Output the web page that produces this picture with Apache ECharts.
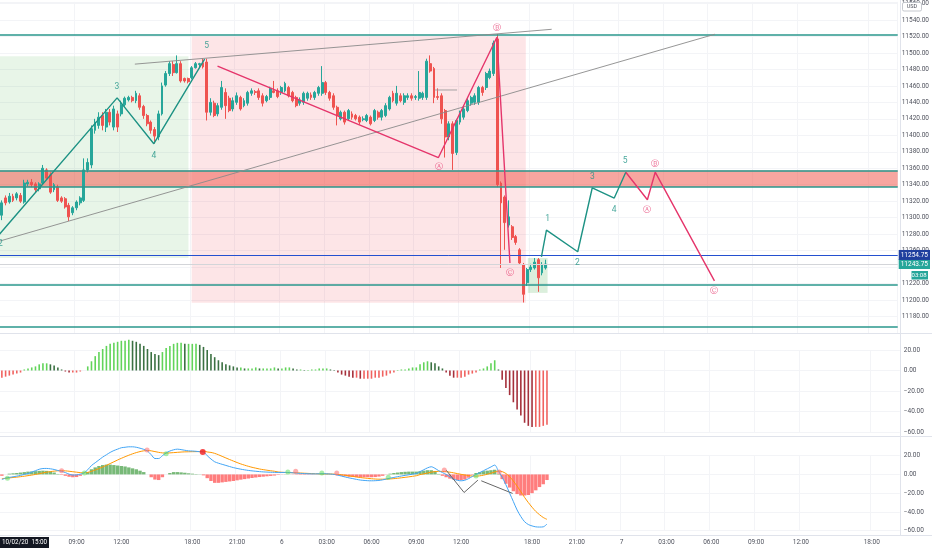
<!DOCTYPE html>
<html><head><meta charset="utf-8">
<script src="https://cdn.jsdelivr.net/npm/echarts@6/dist/echarts.min.js"></script>
<style>html,body{margin:0;padding:0;background:#fff}#c{width:932px;height:550px}</style>
</head><body><div id="c"></div><script>
// ---------- time slots (15-minute bars, CME session) ----------
const N_SLOTS = 241;
const startDay = 5, startMinute = 240;
const skipTimes = ['15:15','16:00','16:15','16:30','16:45'];
const tickKeys = ['5 09:00','5 12:00','5 18:00','5 21:00','6 00:00','6 03:00','6 06:00','6 09:00','6 12:00',
  '6 18:00','6 21:00','7 00:00','7 03:00','7 06:00','7 09:00','7 12:00','7 18:00'];

// ---------- price candles [open, close, low, high] ----------
const candles = [
[11303,11318,11297,11321],[11324,11318,11315,11327],[11319,11326,11317,11330],[11326,11321,11319,11329],
[11324,11329,11321,11331],[11327,11320,11318,11330],[11319,11342,11317,11346],[11341,11343,11338,11346],
[11343,11340,11337,11347],[11341,11334,11331,11343],[11335,11341,11332,11343],[11342,11360,11340,11364],
[11358,11348,11346,11360],[11352,11331,11329,11355],[11334,11340,11331,11342],[11337,11321,11319,11340],
[11324,11320,11318,11326],[11323,11313,11311,11325],[11315,11301,11296,11318],[11306,11312,11303,11314],
[11312,11319,11309,11321],[11318,11324,11315,11326],[11321,11358,11319,11372],[11358,11367,11355,11372],
[11364,11408,11360,11412],[11406,11416,11402,11420],[11412,11422,11408,11428],[11424,11412,11406,11428],
[11410,11428,11404,11432],[11428,11416,11412,11432],[11410,11432,11406,11436],[11426,11410,11404,11430],
[11426,11437,11423,11442],[11437,11445,11435,11447],[11443,11446,11441,11448],[11446,11442,11440,11448],
[11442,11451,11439,11454],[11448,11434,11431,11451],[11435,11424,11420,11437],[11424,11414,11411,11426],
[11416,11406,11402,11418],[11407,11399,11390,11410],[11398,11426,11394,11430],[11426,11460,11424,11464],
[11461,11475,11459,11478],[11475,11487,11472,11490],[11486,11476,11472,11490],[11476,11487,11475,11497],
[11487,11466,11464,11490],[11469,11466,11464,11470],[11469,11465,11463,11470],[11470,11482,11468,11484],
[11482,11487,11481,11489],[11486,11487,11483,11488],[11488,11483,11481,11493],[11489,11428,11418,11493],
[11428,11440,11424,11445],[11439,11424,11422,11442],[11426,11436,11423,11439],[11434,11458,11431,11466],
[11452,11436,11420,11457],[11445,11430,11428,11448],[11432,11442,11429,11446],[11440,11448,11437,11452],
[11446,11432,11430,11448],[11436,11442,11434,11445],[11439,11452,11436,11454],[11451,11454,11448,11457],
[11453,11452,11449,11455],[11454,11446,11443,11457],[11448,11439,11435,11451],[11442,11447,11440,11449],
[11446,11457,11443,11459],[11454,11452,11451,11466],[11454,11447,11445,11457],[11452,11458,11449,11460],
[11454,11463,11452,11465],[11458,11448,11446,11460],[11452,11442,11440,11454],[11446,11436,11434,11448],
[11439,11443,11436,11446],[11440,11451,11437,11453],[11445,11451,11442,11453],[11449,11446,11443,11452],
[11446,11452,11443,11454],[11451,11458,11448,11460],[11451,11464,11448,11484],[11464,11452,11449,11466],
[11452,11445,11442,11454],[11448,11434,11431,11451],[11434,11424,11412,11436],[11420,11428,11418,11430],
[11428,11416,11413,11430],[11420,11430,11418,11432],[11426,11422,11419,11429],[11424,11420,11418,11426],
[11422,11416,11413,11424],[11419,11420,11417,11423],[11418,11424,11416,11426],[11422,11414,11412,11424],
[11418,11430,11416,11432],[11428,11422,11419,11430],[11422,11430,11418,11432],[11424,11436,11422,11439],
[11432,11446,11430,11448],[11451,11442,11440,11454],[11439,11451,11436,11460],[11448,11442,11440,11451],
[11440,11448,11437,11451],[11446,11448,11443,11451],[11448,11445,11442,11451],[11446,11447,11443,11449],
[11445,11452,11442,11478],[11446,11451,11443,11453],[11446,11490,11443,11493],[11487,11478,11476,11497],
[11481,11446,11439,11483],[11447,11446,11443,11457],[11448,11420,11414,11451],[11430,11398,11373,11432],
[11398,11414,11394,11417],[11414,11378,11358,11417],[11379,11418,11376,11420],[11416,11428,11413,11430],
[11422,11432,11419,11436],[11430,11442,11428,11445],[11439,11446,11436,11448],[11440,11448,11437,11451],
[11440,11458,11437,11460],[11458,11452,11448,11460],[11458,11475,11455,11477],[11470,11478,11468,11481],
[11475,11512,11472,11515],[11517,11340,11337,11523],[11342,11318,11239,11344],[11325,11294,11261,11327],
[11291,11301,11288,11321],[11289,11276,11273,11291],[11277,11270,11267,11279],[11261,11245,11243,11263],
[11243,11207,11197,11245],[11221,11237,11217,11239],[11237,11240,11234,11244],[11239,11246,11237,11251],
[11249,11227,11210,11251],[11233,11243,11230,11246],[11239,11243.75,11237,11249]
];

// ---------- oscillator panel 1 ----------
const osc = [-7,-6,-5,-4,-3,-2,1,2,3,4,6,7,7,6,5,3,1,-1,-2,-2,-2,-1,0,4,9,14,18,21,24,26,27,28,29,29,30,29,
 28,26,24,21,18,16,15,18,22,24,26,27,27,26,26,26,26,25,23,20,16,13,10,8,6,5,4,3,3,2,2,2,3,2,2,2,2,3,
 2,2,3,3,2,1,1,0.5,0.5,1,1,2,2,2,1,0.5,-2,-4,-5,-6,-7,-7,-8,-8,-8,-8,-7,-7,-6,-5,-3,-2,0.5,1,1,2,3,3,
 6,8,9,8,7,4,2,-2,-5,-7,-7,-7,-6,-4,-3,-2,1,2,4,7,10,1,-9,-17,-24,-31,-38,-44,-51,-54,-55,-55,-55,-54,-53];

// ---------- MACD panel 2 ----------
const macd = [-5.5,-4,-3.2,-2.5,-1.8,-1,0,1,2.5,4,5.5,6.3,6.4,6,5.3,4.2,3.3,2,0.3,-0.7,-0.5,0.3,1.5,5,9.5,12.5,15.5,
 18.5,21,23.5,25.5,27,28.5,29,29.5,29.5,29,28,26.8,25,21,17,17,20,23,25,26.3,27,26.5,25.8,25.2,25,24.7,24.3,
 24,20,16.5,13.5,12,10.8,9.6,8.4,7.3,6.4,5.6,4.9,4.3,3.8,3.4,3,2.7,2.5,2.3,2.2,
 2.1,2.1,2.2,2.0,1.7,1.4,1.1,0.9,0.7,0.6,0.6,0.7,0.8,0.7,0.4,0,-0.8,-1.8,-2.8,-3.7,-4.5,-5.3,-6,-6.4,-6.7,-6.8,
 -6.7,-6.4,-5.8,-4.9,-4,-3.2,-2.4,-1.7,-1,-0.4,0.3,1,
 3,5,7,8.2,6.5,4,2,0,-2.5,-5,-6.3,-6.8,-6.2,-4.5,-2.2,0,2,4,6,8,10,3.5,-3,-11,-20,-29,-38,-45,-50.5,-53.5,-55,-56,-56.2,-56,-53];
const signal = [-4.5,-4.1,-3.7,-3.3,-2.9,-2.4,-1.9,-1.3,-0.7,0,0.8,1.6,2.4,3,3.5,3.9,4,3.8,3.4,2.9,2.4,1.9,1.6,2.2,3.3,
 4.7,6.2,7.9,9.7,11.6,13.5,15.4,17.2,18.9,20.5,22,23.3,24.4,25.2,25.6,25.2,24.4,23.6,23,22.8,23,23.3,23.6,23.9,24.1,24.2,24.3,24.35,24.4,
 25,24,23.5,22.5,21,19.3,17.6,15.9,14.3,12.7,11.2,9.9,8.7,7.6,6.7,5.8,5.1,4.5,3.9,3.4,
 2.6,2.3,2.0,1.9,1.8,1.7,1.5,1.3,1.1,0.9,0.7,0.6,0.6,0.6,0.5,0.3,0,-0.4,-0.9,-1.5,-2.1,-2.7,-3.3,-3.8,-4.2,-4.6,
 -4.9,-5.1,-5.1,-5,-4.8,-4.5,-4.1,-3.6,-3.1,-2.6,-2,-1.4,
 -0.2,0.6,1.5,2.4,3,3.3,3.2,2.9,2.4,1.7,0.9,0.1,-0.6,-1.2,-1.7,-1.8,-1.5,-0.8,0.2,1.3,2.6,3.5,3,1,-2.5,-7,-12.5,-18.5,-24.5,-30,-35,-39.5,-43,-46,-48];
const hist = [-1.5,0,0.8,1.2,1.5,2,2.5,3,3.2,3.5,3.8,4,3.8,3.2,2,0.5,-0.5,-1.5,-2.5,-3,-2.8,-1.5,0,2.5,5.5,7.5,9,10,10.5,
 10.5,10,9.5,9,8.5,7.5,6.5,5.5,4,2.5,0,-3,-5.5,-6,-3,0,1.5,2.5,2.5,2.2,1.8,1.2,0.8,0.4,0.2,
 -1,-4,-7,-9,-9,-8.5,-8,-7.5,-7,-6.3,-5.6,-5,-4.4,-3.8,-3.3,-2.8,-2.4,-2,-1.6,-1.2,
 -0.5,-0.2,0.2,0.1,-0.2,-0.4,-0.5,-0.5,-0.4,-0.3,-0.1,0.2,0.4,0.4,0.2,-0.2,-0.8,-1.5,-2,-2.5,-2.8,-3,-3,-3,-3,-3,
 -2.8,-2.3,-1.5,-0.2,0.8,1.5,2,2.5,2.8,3,3,3,
 3.5,4,4.5,4.5,3.5,0.5,-1.5,-3,-4.5,-5.5,-6,-6,-5.5,-3.5,-0.5,1.5,2.5,3.5,4,4.5,5,0.5,-5,-10,-14,-18,-21,-22.5,-22.5,-22,-20,-17,-13.5,-10.5,-6];
// crossover dots (slot position, value, kind)
const crossX = [1.5,16,22.1,38.9,44,53.8,76.6,78.7,85.7,89.7,103.5,118.5,127,133.2];
const crossY = [-4,4,1.4,26,22,24,2.5,3.5,1.4,1.4,-3,4.6,-1.8,2.5];
const crossKind = ['up','dn','up','dn','up','big','up','dn','up','dn','up','dn','up','dn'];
const macdZig1 = [[119,4.6],[123.8,-19.3],[127.5,-6.1]];
const macdZig2 = [[128.4,-6.8],[136.8,-20.3]];

// ---------- drawings on price pane (slot position, price) ----------
const tealLevels = [11522.5, 11357.2, 11337.1, 11218, 11167];
const supplyBand = [11357.2, 11337.1];
const blueLevel = 11254.75;
const lastPrice = 11243.75;
const greenBox = [[-0.5,11496],[50.1,11251]];
const pinkBox = [[50.96,11520],[140.66,11196.6]];
const smallBox = [[141.2,11251],[146.5,11208.7]];
const lowerTrend = [[-0.5,11271.7],[191.4,11522.7]];
const upperTrend = [[35.7,11486.4],[147.6,11528.7]];
const shortMark = [[116.3,11455],[122.2,11455]];
const impulseWave = [[-0.8,11279],[30.94,11445.4],[40.8,11389.8],[54.43,11492.5]];
const abcWave = [[57.9,11484],[117.2,11373],[132.9,11519],[136.4,11245]];
const futureImpulse = [[144.85,11252.5],[146.2,11284.8],[154.6,11258.6],[158.5,11336.3],[164.4,11323.8],[167.5,11355.2]];
const futureAbc = [[167.5,11355.2],[173.3,11321.8],[175.4,11355.2],[191.3,11223.2]];
const numberLabels = [['2',-0.4,11268],['3',30.9,11459],['4',40.8,11375],['5',54.96,11508],
  ['1',146.5,11299],['2',154.5,11245],['3',158.5,11349],['4',164.4,11310],['5',167.3,11369]];
const letterLabels = [['Ⓐ',117.4,11361],['Ⓑ',132.9,11530],['Ⓒ',136.4,11233],
  ['Ⓐ',173.2,11309],['Ⓑ',175.4,11364.5],['Ⓒ',191.1,11211]];
const countdown = '03:08';
const cursorLabel = '10/02/20  15:00';

// ---------- build ----------
function buildSlots(){
  const out=[]; let d=startDay, m=startMinute;
  while(out.length<N_SLOTS){
    const t=String(Math.floor(m/60)).padStart(2,'0')+':'+String(m%60).padStart(2,'0');
    if(!skipTimes.includes(t)) out.push(d+' '+t);
    m+=15; if(m>=1440){m-=1440;d++;}
  }
  return out;
}
const slots = buildSlots();
const tickSet = new Set(tickKeys);
const C = {up:'#26a69a',down:'#ef5350',teal:'#2a978c',wTeal:'#1d9284',wPink:'#e5356b',trend:'#8a8a8a',
  blue:'#2450d0',badge:'#1f3f9e',last:'#d3d5d9',txt:'#50535e',sep:'#e0e3eb',grid:'#f3f4f7'};
const FONT='Roboto';
const GL=-2.8, GW=902.6;
const fmt2 = v => (v<0?'−':'')+Math.abs(v).toFixed(2);

const chart = echarts.init(document.getElementById('c'), null, {renderer:'canvas'});
const catAxis = (g, showLabel) => ({type:'category', gridIndex:g, data:slots, boundaryGap:true,
  axisLine:{show:false}, axisTick:{show:false},
  axisLabel:{show:showLabel, interval:(i,v)=>tickSet.has(v), formatter:v=>{const t=v.split(' ');return t[1]==='00:00'?t[0]:t[1];},
    color:C.txt, fontSize:6.5, fontFamily:FONT, margin:8},
  splitLine:{show:true, interval:(i,v)=>tickSet.has(v), lineStyle:{color:C.grid,width:1}}});
const valX = g => ({type:'value', gridIndex:g, min:-0.5, max:N_SLOTS-0.5, show:false});
const panelY = (g) => ({type:'value', gridIndex:g, position:'right', min:-60, max:20, interval:20,
  axisLine:{show:false}, axisTick:{show:false},
  axisLabel:{formatter:fmt2, color:C.txt, fontSize:6.5, fontFamily:FONT, margin:4},
  splitLine:{lineStyle:{color:C.grid}}});

const oscColor = p => { const i=p.dataIndex, v=osc[i], pv=i?osc[i-1]:v;
  if(v>=0) return v>=pv?'#62d45a':'#3b7142'; return v<pv?'#a5303b':'#f0625f'; };
const lineS = (data, color, width, z, xi) => ({type:'line', xAxisIndex:xi===undefined?3:xi, yAxisIndex:xi===4?2:0,
  data, showSymbol:false, symbol:'none', lineStyle:{color, width}, z, silent:true, animation:false});
const labelS = (arr, color, size) => ({type:'scatter', xAxisIndex:3, yAxisIndex:0, symbolSize:1, clip:false, z:7, silent:true,
  itemStyle:{color:'rgba(0,0,0,0)'},
  data:arr.map(a=>({name:a[0], value:[a[1],a[2]]})),
  label:{show:true, position:'inside', formatter:'{b}', color, fontSize:size, fontFamily:FONT}});
const box = (b, color) => [{coord:b[0], itemStyle:{color}}, {coord:b[1]}];

const option = {
  animation:false,
  grid:[
    {left:GL, width:GW, top:0, height:333},
    {left:GL, width:GW, top:350, height:82},
    {left:GL, width:GW, top:455.7, height:74.9}
  ],
  xAxis:[catAxis(0,false), catAxis(1,false), catAxis(2,true), valX(0), valX(2)],
  yAxis:[
    {type:'value', gridIndex:0, position:'right', min:11160, max:11562, interval:20,
      axisLine:{show:false}, axisTick:{show:false},
      axisLabel:{formatter:v=>v.toFixed(2), color:C.txt, fontSize:6.5, fontFamily:FONT, margin:4, showMinLabel:false, showMaxLabel:false},
      splitLine:{lineStyle:{color:C.grid}}},
    panelY(1), panelY(2)
  ],
  series:[
    {type:'line', xAxisIndex:3, yAxisIndex:0, data:[], silent:true,
      markArea:{silent:true, data:[box(greenBox,'rgba(76,175,80,0.13)'), box(pinkBox,'rgba(242,54,69,0.13)'), box(smallBox,'rgba(76,175,80,0.2)')]}},
    {type:'line', xAxisIndex:3, yAxisIndex:0, data:[], silent:true,
      markArea:{silent:true, itemStyle:{color:'rgba(240,92,82,0.55)'}, data:[[{yAxis:supplyBand[0]},{yAxis:supplyBand[1]}]]}},
    {type:'candlestick', xAxisIndex:0, yAxisIndex:0, data:candles, barWidth:2.4, z:3, silent:true,
      itemStyle:{color:C.up, color0:C.down, borderColor:C.up, borderColor0:C.down, borderWidth:1}},
    {type:'line', xAxisIndex:3, yAxisIndex:0, data:[], silent:true, z:5,
      markLine:{silent:true, symbol:['none','none'], animation:false, data:[
        ...tealLevels.map(v=>({yAxis:v, lineStyle:{color:C.teal, width:1.6, type:'solid'}, label:{show:false}})),
        {yAxis:lastPrice, lineStyle:{color:C.last, width:1, type:'solid'},
          label:{show:true, position:'end', distance:1, formatter:lastPrice.toFixed(2), color:'#fff', backgroundColor:'#26a69a', padding:[2,2,1,2], fontSize:6.5, fontFamily:FONT}},
        {yAxis:blueLevel, lineStyle:{color:C.blue, width:1, type:'solid'},
          label:{show:true, position:'end', distance:1, formatter:blueLevel.toFixed(2), color:'#fff', backgroundColor:C.badge, padding:[2,2,1,2], fontSize:6.5, fontFamily:FONT}}
      ]}},
    lineS(lowerTrend, C.trend, 0.9, 5),
    lineS(upperTrend, C.trend, 0.9, 5),
    lineS(shortMark, '#9a9a9a', 0.9, 5),
    lineS(impulseWave, C.wTeal, 1.4, 6),
    lineS(futureImpulse, C.wTeal, 1.4, 6),
    lineS(abcWave, C.wPink, 1.4, 6),
    lineS(futureAbc, C.wPink, 1.4, 6),
    labelS(numberLabels, C.wTeal, 8.5),
    labelS(letterLabels, C.wPink, 7.5),
    {type:'bar', xAxisIndex:1, yAxisIndex:1, data:osc, barWidth:1.6, clip:false, silent:true, itemStyle:{color:oscColor}},
    {type:'bar', xAxisIndex:2, yAxisIndex:2, data:hist, barWidth:3.4, clip:false, silent:true,
      itemStyle:{color:p=>p.value>=0?'rgba(86,168,86,0.8)':'rgba(255,92,92,0.8)'}},
    {type:'line', xAxisIndex:2, yAxisIndex:2, data:signal, showSymbol:false, smooth:0.3, clip:false, silent:true, z:4, lineStyle:{color:'#ff9800', width:1}},
    {type:'line', xAxisIndex:2, yAxisIndex:2, data:macd, showSymbol:false, smooth:0.3, clip:false, silent:true, z:4, lineStyle:{color:'#42a5f5', width:1}},
    lineS(macdZig1, '#666', 1, 5, 4),
    lineS(macdZig2, '#666', 1, 5, 4),
    {type:'scatter', xAxisIndex:4, yAxisIndex:2, clip:false, silent:true, z:6,
      data:crossX.map((x,i)=>({value:[x,crossY[i]],
        symbolSize: crossKind[i]==='big'?6:5,
        itemStyle:{color: crossKind[i]==='big'?'#f41c1c':(crossKind[i]==='up'?'rgba(90,220,90,0.65)':'rgba(255,110,110,0.7)')}}))}
  ]
};
chart.setOption(option);

const yLast = chart.convertToPixel({yAxisIndex:0}, lastPrice);
chart.setOption({graphic:[
  {type:'line', shape:{x1:0,y1:333.5,x2:932,y2:333.5}, style:{stroke:C.sep,lineWidth:1}, silent:true},
  {type:'line', shape:{x1:0,y1:436.5,x2:932,y2:436.5}, style:{stroke:C.sep,lineWidth:1}, silent:true},
  {type:'line', shape:{x1:0,y1:535.5,x2:932,y2:535.5}, style:{stroke:C.sep,lineWidth:1}, silent:true},
  {type:'line', shape:{x1:900.5,y1:0,x2:900.5,y2:536}, style:{stroke:C.sep,lineWidth:1}, silent:true},
  {type:'rect', shape:{x:902.5,y:2.5,width:19,height:8.5,r:1.5}, style:{fill:'#fff',stroke:'#b8bbc3',lineWidth:0.8}, z:20, silent:true},
  {type:'text', x:912, y:7, style:{text:'USD', fill:'#50535e', fontSize:5.5, fontFamily:FONT, align:'center', verticalAlign:'middle'}, z:21, silent:true},
  {type:'rect', shape:{x:911.5,y:yLast+7,width:16.5,height:8.5}, style:{fill:'#26a69a'}, z:20, silent:true},
  {type:'text', x:926.5, y:yLast+11.5, style:{text:countdown, fill:'#fff', fontSize:6, fontFamily:FONT, align:'right', verticalAlign:'middle'}, z:21, silent:true},
  {type:'rect', shape:{x:0,y:537,width:49,height:11}, style:{fill:'#131722'}, z:20, silent:true},
  {type:'text', x:24.5, y:542.5, style:{text:cursorLabel, fill:'#fff', fontSize:6.3, fontFamily:FONT, align:'center', verticalAlign:'middle'}, z:21, silent:true}
]});
</script></body></html>
